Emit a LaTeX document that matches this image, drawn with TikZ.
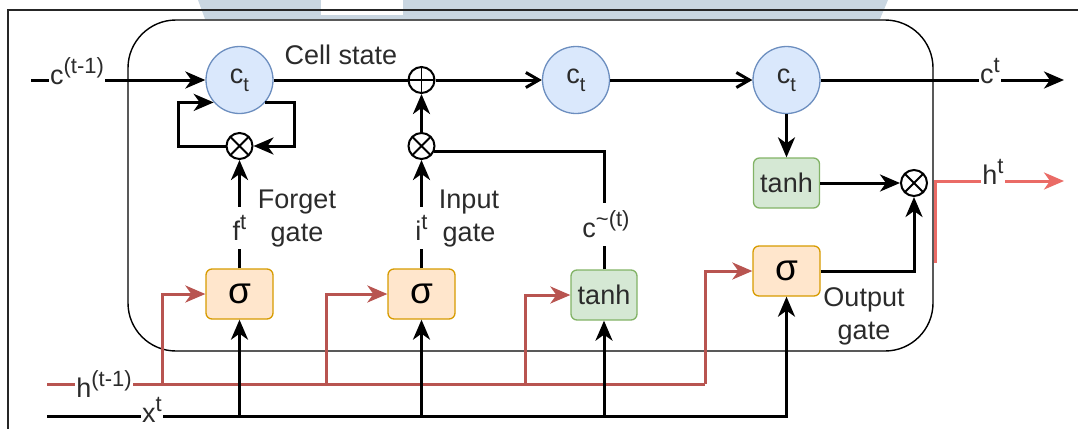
\documentclass[tikz,border=0pt]{standalone}
\usepackage{fontspec}
\setmainfont{Liberation Sans}
\usetikzlibrary{arrows.meta}
\newcommand\supx[1]{\raisebox{11pt}{\fontsize{22}{22}\selectfont #1}}
\newcommand\subx[1]{\raisebox{-8pt}{\fontsize{20}{20}\selectfont #1}}
\definecolor{cellfill}{HTML}{DAE8FC}
\definecolor{cellline}{HTML}{6C8EBF}
\definecolor{sigfill}{HTML}{FFE6CC}
\definecolor{sigline}{HTML}{D79B00}
\definecolor{tanfill}{HTML}{D5E8D4}
\definecolor{tanline}{HTML}{82B366}
\definecolor{hred}{HTML}{B85450}
\definecolor{hout}{HTML}{EA6B66}
\definecolor{txt}{HTML}{2B2B2B}
\definecolor{banner}{HTML}{C9D6E1}
\begin{document}
\begin{tikzpicture}[x=1pt,y=-1pt,
  lab/.style={font=\fontsize{27}{33}\selectfont, text=txt, inner sep=0pt},
  onl/.style={lab, fill=white, inner xsep=1pt, inner ysep=2pt},
  cstate/.style={circle, draw=cellline, fill=cellfill, line width=1.3pt, minimum size=67pt, inner sep=0pt, font=\fontsize{27}{33}\selectfont, text=txt},
  sigbox/.style={rectangle, rounded corners=6pt, draw=sigline, fill=sigfill, line width=1.3pt, minimum width=67pt, minimum height=50pt, inner sep=0pt, font=\fontsize{37}{37}\selectfont},
  tanbox/.style={rectangle, rounded corners=6pt, draw=tanline, fill=tanfill, line width=1.3pt, minimum width=66pt, minimum height=50pt, inner sep=0pt, font=\fontsize{27}{33}\selectfont, text=txt},
  opcirc/.style={circle, draw=black, fill=white, line width=2pt, minimum size=26pt, inner sep=0pt},
  plusc/.style={opcirc, path picture={\draw[line width=1.9pt] (path picture bounding box.north) -- (path picture bounding box.south) (path picture bounding box.west) -- (path picture bounding box.east);}},
  timesc/.style={opcirc, path picture={\draw[line width=1.9pt] (path picture bounding box.north west) -- (path picture bounding box.south east) (path picture bounding box.north east) -- (path picture bounding box.south west);}},
  cellbox/.style={rectangle, draw=black, rounded corners=48pt, line width=1.4pt, minimum width=805pt, minimum height=331pt, inner sep=0pt},
  ln/.style={line width=3pt, draw=black},
  tip/.style={-{Stealth[length=20pt,width=17pt,inset=6pt]}},
  arr/.style={ln, tip},
  oarr/.style={ln, -{Straight Barb[length=13pt,width=15pt]}},
  redln/.style={line width=3pt, draw=hred},
  redarr/.style={redln, tip},
  harr/.style={line width=3pt, draw=hout, tip}
]
\useasboundingbox (0,0) rectangle (1078,429);
% background fragments
\fill[banner] (198,0) -- (888,0) -- (880,19) -- (205,19) -- cycle;
\fill[white] (321,0) rectangle (403,15);
\draw[line width=1.4pt, black!85] (1078,10) -- (8,10) -- (8,429);
% cell
\node[cellbox] (cell) at (530.5,185.5) {};
% nodes
\node[cstate] (c1) at (239.5,80) {c\subx{t}};
\node[cstate] (c2) at (576,80) {c\subx{t}};
\node[cstate] (c3) at (786.5,80) {c\subx{t}};
\node[plusc] (pl) at (421.5,80) {};
\node[timesc] (xf) at (239.5,146) {};
\node[timesc] (xi) at (421.5,146) {};
\node[timesc] (xo) at (914,183) {};
\node[sigbox] (sf) at (239.5,294) {σ};
\node[sigbox] (si) at (421.5,294) {σ};
\node[tanbox] (tc) at (604,295) {tanh};
\node[sigbox] (so) at (786.5,271) {σ};
\node[tanbox] (to) at (786.5,183) {tanh};
% coordinates
\coordinate (cin) at (31,80);
\coordinate (cout) at (1064,80);
\coordinate (hin) at (47,384);
\coordinate (xin) at (47,416);
\coordinate (hb1) at (162,384);
\coordinate (hb2) at (326,384);
\coordinate (hb3) at (525,384);
\coordinate (hb4) at (705,384);
\coordinate (loopL) at (178,0);
\coordinate (loopR) at (294,0);
\coordinate (hos) at (935,263);
\coordinate (hend) at (1064,181);
% cell state line
\draw[arr] (cin) -- (c1);
\draw[ln] (c1) -- (pl);
\draw[oarr] (pl) -- (c2);
\draw[oarr] (c2) -- (c3);
\draw[arr] (c3) -- (cout);
% forget loop
\draw[arr] (c1.-41) -| (loopR |- xf) -- (xf.east);
\draw[arr] (xf.west) -| (loopL |- c1.221) -- (c1.221);
% gates
\draw[arr] (sf) -- (xf);
\draw[arr] (si) -- (xi);
\draw[arr] (xi) -- (pl);
\draw[ln] (tc.north) |- (xi.-24);
\draw[arr] (c3) -- (to);
\draw[arr] (to) -- (xo);
\draw[arr] (so.east) -| (xo.south);
% output h
\draw[harr] (hos) |- (hend);
% h(t-1)
\draw[redln] (hin) -- (hb4);
\draw[redarr] (hb1) |- (sf.west);
\draw[redarr] (hb2) |- (si.west);
\draw[redarr] (hb3) |- (tc.west);
\draw[redarr] (hb4) |- (so.west);
% x(t)
\draw[arr] (xin) -| (so.south);
\draw[arr] (sf.south |- xin) -- (sf.south);
\draw[arr] (si.south |- xin) -- (si.south);
\draw[arr] (tc.south |- xin) -- (tc.south);
% labels
\node[onl] (lc) at (77,71.5) {c\supx{(t-1)}};
\node[onl] (lh) at (104,384.5) {h\supx{(t-1)}};
\node[onl] (lx) at (152,410) {x\supx{t}};
\node[onl] (lct) at (990,71.5) {c\supx{t}};
\node[onl] (lht) at (993,171.5) {h\supx{t}};
\node[onl, inner ysep=8pt] (lf) at (239.5,228) {f\supx{t}};
\node[onl, inner ysep=8pt] (li) at (421.5,228) {i\supx{t}};
\node[onl, inner ysep=8pt] (lcc) at (606,224.5) {c\supx{\textasciitilde(t)}};
\node[lab] (cs) at (341,55) {Cell state};
\node[lab, align=center] (fg) at (297,219) {Forget\\gate};
\node[lab, align=center] (ig) at (469,219) {Input\\gate};
\node[lab, align=center] (og) at (864,316) {Output\\gate};
\end{tikzpicture}
\end{document}
